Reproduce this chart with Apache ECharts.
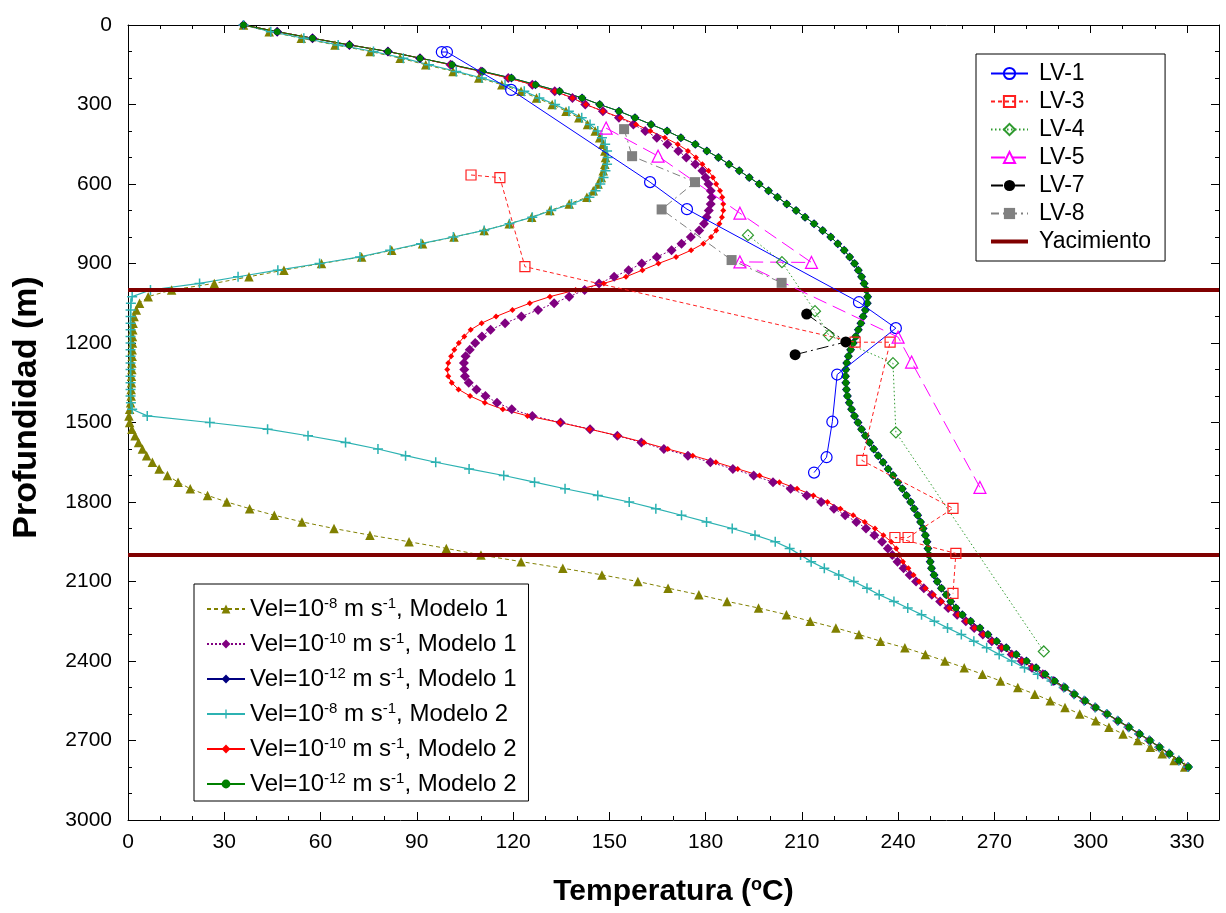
<!DOCTYPE html>
<html><head><meta charset="utf-8">
<script src="https://cdn.jsdelivr.net/npm/echarts@6/dist/echarts.min.js"></script>
<style>html,body{margin:0;padding:0;background:#fff}#c{width:1226px;height:913px}</style>
</head><body><div id="c"></div>
<script>
// ---------- data ----------
const depths = [
  0,25,50,75,100,125,150,175,200,225,
  250,275,300,325,350,375,400,425,450,475,
  500,525,550,575,600,625,650,675,700,725,
  750,775,800,825,850,875,900,925,950,975,
  1000,1025,1050,1075,1100,1125,1150,1175,1200,1225,
  1250,1275,1300,1325,1350,1375,1400,1425,1450,1475,
  1500,1525,1550,1575,1600,1625,1650,1675,1700,1725,
  1750,1775,1800,1825,1850,1875,1900,1925,1950,1975,
  2000,2025,2050,2075,2100,2125,2150,2175,2200,2225,
  2250,2275,2300,2325,2350,2375,2400,2425,2450,2475,
  2500,2525,2550,2575,2600,2625,2650,2675,2700,2725,
  2750,2775,2800];

// Vel=1e-8, Modelo 1
const m1v8 = [
  36,44,54,64.5,75.5,84.8,92.8,101.3,109.3,116.5,
  122.5,127.3,132.2,136.5,140.5,143.2,145.6,147,148,148.6,
  148.8,148.6,148.1,147.5,146.5,145,143,137.5,131.5,125.8,
  118.8,111,101.6,91.8,82.2,72.8,60.3,48.6,37.7,26.9,
  13.6,6.3,3.6,2.6,1.9,1.6,1.5,1.4,1.4,1.3,
  1.3,1.2,1.2,1.1,1.1,1,1,0.8,0.5,0.3,
  0.5,1.2,2.2,3.3,4.5,5.8,7.6,9.7,12.3,15.6,
  19.4,24.8,30.8,37.9,45.6,54.2,64.2,75.4,87.6,99.2,
  110,122.5,135.5,147.7,158.9,168.3,177.9,186.7,196.5,205.2,
  212.6,220.6,227.8,234.5,242.1,248.5,254.6,260.6,266.3,271.9,
  277.3,282.6,287.4,292,296.6,301.6,305.7,310.1,314.7,318.6,
  322.3,326,329.3];
// Vel=1e-10, Modelo 1
const m1v10 = [
  36,46.5,57.5,69,81,91,100.5,110,118.5,126,
  133,138.5,142.5,148,153,157.5,161.2,164.8,168.1,171.5,
  174,176.8,179,180,180.9,181.6,181.9,181.6,181,180.3,
  179.5,178,175.4,172.5,169.4,164.8,160.1,156,151.5,146.8,
  142.3,137.5,132.8,127.8,122.6,117.5,113,110.3,108.2,106.5,
  105.2,104.7,104.8,105,106.2,108.6,111.4,115,119.6,126,
  134.8,144,152.5,160,167,174.5,181.5,188.5,195,201,
  206.5,211.5,216,220,223.5,227,230,232.6,235,236.8,
  238.2,239.8,241.7,243.6,245.6,248,250.5,253.1,255.6,258.4,
  261.1,263.7,266.4,269.2,272.2,275.4,278.5,281.7,285.1,288.3,
  291.6,294.8,298,301.4,305,308.4,311.8,315.1,318.3,321.4,
  324.5,327.5,330.3];
// Vel=1e-12, Modelo 1
const m1v12 = [
  36,46.5,57.5,69,81,91,101,110.5,119.5,127,
  134.5,141.5,147,153,158,163,168,172.3,176.8,180.4,
  184,187.3,190.5,193.6,196.7,199.6,202.4,205.3,208.2,211,
  213.8,216.5,219,221.2,223.2,224.9,226.4,227.6,228.6,229.4,
  230.1,230.5,230.4,229.8,229.1,228.4,227.6,226.8,226,225.2,
  224.5,224,223.7,223.6,223.7,223.9,224.2,224.8,225.5,226.4,
  227.5,228.6,229.8,231.1,232.4,233.8,235.3,236.9,238.4,239.9,
  241.3,242.6,243.9,245,246.1,247,247.8,248.5,249,249.3,
  249.6,250,250.4,251.2,252.2,253.5,255,256.4,258,260,
  262.6,265.5,268,270.7,273.7,276.8,280,283,285.8,288.8,
  292,295,298.3,301.6,305.2,308.6,312,315.3,318.5,321.5,
  324.6,327.5,330.5];
// Vel=1e-8, Modelo 2
const m2v8 = [
  36,44.5,54.8,65.5,76.5,85.8,93.8,102.3,110.3,117.5,
  123.5,128.2,133.1,137.4,141.4,144,146.4,147.7,148.7,149.3,
  149.5,149.3,148.8,148.2,147.2,145.7,143.8,138.2,131.9,126,
  118.9,111,101.4,91.3,81.7,72.3,59.7,46.7,34.3,22.3,
  7,1.3,0.9,0.8,0.8,0.8,0.8,0.8,0.8,0.8,
  0.8,0.8,0.8,0.8,0.8,0.8,0.8,0.9,1.3,6,
  25.5,43.5,56.1,67.8,77.9,86.5,95.9,106.3,117.1,126.7,
  136.2,146.4,156.2,164.5,172.5,180.3,188.3,195.4,201.7,206.2,
  209.6,212.9,217,221.5,226.2,230.3,234.1,238.7,243,247.3,
  251.3,255.4,259.7,263.6,267.6,271.5,275.4,279.4,283.5,287.8,
  291.6,294.8,298,301.4,305,308.4,311.8,315.1,318.3,321.4,
  324.5,327.5,330.3];
// Vel=1e-10, Modelo 2
const m2v10 = [
  36,46.5,57.5,69,81,91,100.5,110,118.5,126,
  133,138.5,142.7,148,153.5,158.3,162.8,167.3,171.3,174.5,
  177,179,180.9,182.3,183.3,184.5,185.2,185.5,185.5,185.1,
  184.3,183.3,181.7,179.3,175.5,170.8,165.3,160.3,155.2,148.3,
  139.5,131.5,125.2,119.8,114.7,110.2,106.8,104.8,103.1,101.7,
  100.7,99.8,99.5,99.8,100.9,103,106.6,111.2,116.8,124.5,
  134.5,143.8,152.8,160.8,168.2,176,183.2,190,196.8,203,
  208.5,213.6,218,222,226,229.6,232.8,235.4,237.8,239.4,
  240.5,241.5,243.2,244.8,246.5,248.5,251,253.5,256,258.7,
  261.3,263.8,266.5,269.3,272.3,275.5,278.6,281.8,285.2,288.4,
  291.7,294.8,298,301.4,305,308.4,311.8,315.1,318.3,321.4,
  324.5,327.5,330.3];
// Vel=1e-12, Modelo 2
const m2v12 = [
  36,46.5,57.5,69,81,91,101,110.5,119.5,127,
  134.5,141.5,147,153,158,163,168,172.3,176.8,180.4,
  184,187.3,190.5,193.6,196.7,199.6,202.4,205.3,208.2,211,
  213.8,216.5,219,221.2,223.2,224.9,226.4,227.6,228.6,229.4,
  230.1,230.5,230.4,229.8,229.1,228.4,227.6,226.8,226,225.2,
  224.5,224,223.7,223.6,223.7,223.9,224.2,224.8,225.5,226.4,
  227.5,228.6,229.8,231.1,232.4,233.8,235.3,236.9,238.4,239.9,
  241.3,242.6,243.9,245,246.1,247,247.8,248.5,249,249.3,
  249.6,250,250.4,251.2,252.2,253.5,255,256.4,258,260,
  262.6,265.5,268,270.7,273.7,276.8,280,283,285.8,288.8,
  292,295,298.3,301.6,305.2,308.6,312,315.3,318.5,321.5,
  324.6,327.5,330.5];

// Measured wells
const lv1T = [97.8,99.4,119.4,162.7,174.2,227.8,239.3,221,219.5,217.7,213.8];
const lv1D = [102,102,245,593,695,1046,1144,1319,1497,1631,1689];
const lv3T = [106.9,115.9,123.7,226.6,237.5,228.7,257.1,243.1,239,258,257.1];
const lv3D = [566,576,912,1197,1197,1643,1824,1934,1934,1994,2145];
const lv4T = [193.2,203.8,214.1,218.4,238.4,239.3,285.4];
const lv4D = [793,895,1080,1171,1276,1537,2364];
const lv5T = [149,165.2,190.7,213,190.7,240,244.2,265.5];
const lv5D = [389,495,710,896,894,1178,1272,1745];
const lv7T = [211.5,223.7,207.9];
const lv7D = [1091,1196,1244];
const lv8T = [154.6,157.1,176.7,166.3,188.1,203.7];
const lv8D = [393,495,593,696,887,973];

const reservoirDepths = [1000, 2000];

const modelNames = ['M1v8','M1v10','M1v12','M2v8','M2v10','M2v12'];
const modelLabels = [
  'Vel=10{sup|-8} m s{sup|-1}, Modelo 1',
  'Vel=10{sup|-10} m s{sup|-1}, Modelo 1',
  'Vel=10{sup|-12} m s{sup|-1}, Modelo 1',
  'Vel=10{sup|-8} m s{sup|-1}, Modelo 2',
  'Vel=10{sup|-10} m s{sup|-1}, Modelo 2',
  'Vel=10{sup|-12} m s{sup|-1}, Modelo 2'];
const wellNames = ['LV-1','LV-3','LV-4','LV-5','LV-7','LV-8','Yacimiento'];

const xTicks = {min: 0, max: 340, interval: 30};
const yTicks = {min: 0, max: 3000, interval: 300};

// ---------- chart ----------
const FONT = '"Liberation Sans", Arial, Helvetica, sans-serif';
const pairs = (t, d) => t.map((v, i) => [v, d[i]]);
const PLUS = 'path://M4.25,0H5.75V4.25H10V5.75H5.75V10H4.25V5.75H0V4.25H4.25Z';
const BAR_ICON = 'path://M0,0H37V4H0Z';

function model(name, temps, color, lineType, symbol, size, width) {
  return {
    name, type: 'line', data: pairs(temps, depths),
    symbol, symbolSize: size, showAllSymbol: true,
    lineStyle: {color, width: width || 1, type: lineType},
    itemStyle: {color, borderWidth: 0},
    z: 3
  };
}
function well(name, t, d, color, lineType, symbol, size, hollow) {
  return {
    name, type: 'line', data: pairs(t, d),
    symbol, symbolSize: size, showAllSymbol: true,
    lineStyle: {color, width: 1, type: lineType},
    itemStyle: hollow ? {color: 'rgba(255,255,255,0)', borderColor: color, borderWidth: 1.2}
                      : {color, borderWidth: 0},
    z: 5
  };
}

const black = '#000';
function axisCommon(showLabel) {
  return {
    axisLine: {show: true, onZero: false, lineStyle: {color: black, width: 1}},
    axisTick: {show: true, inside: true, length: 8, lineStyle: {color: black}},
    minorTick: {show: true, splitNumber: 3, length: 4, lineStyle: {color: black}},
    splitLine: {show: false},
    axisLabel: {show: showLabel, color: black, fontFamily: FONT, fontSize: 21,
      formatter: v => String(v)}
  };
}

const option = {
  animation: false,
  backgroundColor: '#fff',
  grid: {left: 128, right: 7, top: 25, bottom: 93, containLabel: false},
  xAxis: [
    Object.assign({type: 'value', position: 'bottom'}, xTicks, axisCommon(true), {
      name: 'Temperatura ({sup|o}C)', nameLocation: 'middle', nameGap: 56,
      nameTextStyle: {color: black, fontFamily: FONT, fontSize: 30, fontWeight: 'bold', lineHeight: 32,
        rich: {sup: {fontSize: 18, fontWeight: 'bold', fontFamily: FONT, color: black, verticalAlign: 'top', lineHeight: 22}}}
    }),
    Object.assign({type: 'value', position: 'top'}, xTicks, axisCommon(false))
  ],
  yAxis: [
    Object.assign({type: 'value', position: 'left', inverse: true}, yTicks, axisCommon(true), {
      name: 'Profundidad (m)', nameLocation: 'middle', nameGap: 84,
      nameTextStyle: {color: black, fontFamily: FONT, fontSize: 34, fontWeight: 'bold', padding: [0, 0, 0, 30]}
    }),
    Object.assign({type: 'value', position: 'right', inverse: true}, yTicks, axisCommon(false))
  ],
  legend: [
    {
      orient: 'vertical', left: 976, top: 54,
      data: wellNames.map(n => n === 'Yacimiento' ? {name: n, icon: BAR_ICON} : n),
      padding: [8, 14, 8, 14], itemWidth: 37, itemHeight: 14, itemGap: 5,
      backgroundColor: '#fff', borderColor: black, borderWidth: 1, borderRadius: 0,
      textStyle: {color: black, fontFamily: FONT, fontSize: 23, lineHeight: 22, padding: [0, 0, 0, 6]}
    },
    {
      orient: 'vertical', left: 194, top: 584,
      data: modelNames,
      formatter: name => modelLabels[modelNames.indexOf(name)],
      padding: [12, 12, 4, 12], itemWidth: 38, itemHeight: 11, itemGap: 9,
      backgroundColor: '#fff', borderColor: black, borderWidth: 1, borderRadius: 0,
      textStyle: {color: black, fontFamily: FONT, fontSize: 24, lineHeight: 26,
        rich: {sup: {fontSize: 15, fontFamily: FONT, color: black, verticalAlign: 'top', lineHeight: 15}}}
    }
  ],
  series: [
    {
      name: 'Yacimiento', type: 'line', data: [], symbol: 'none',
      lineStyle: {color: '#800000', width: 4}, itemStyle: {color: '#800000'},
      markLine: {
        silent: true, symbol: ['none', 'none'], label: {show: false},
        lineStyle: {color: '#800000', width: 4, type: 'solid'},
        data: reservoirDepths.map(d => ({yAxis: d}))
      },
      z: 2
    },
    model('M1v8', m1v8, '#808000', [4, 3], 'triangle', 9.5),
    model('M1v10', m1v10, '#800080', [2, 2], 'diamond', 10),
    model('M1v12', m1v12, '#000080', 'solid', 'diamond', 9),
    model('M2v8', m2v8, '#2cb2b2', 'solid', PLUS, 10, 1.2),
    model('M2v10', m2v10, '#ff0000', 'solid', 'diamond', 6),
    model('M2v12', m2v12, '#008000', 'solid', 'circle', 6.5),
    well('LV-1', lv1T, lv1D, '#0000ff', 'solid', 'circle', 11, true),
    well('LV-3', lv3T, lv3D, '#ff2020', [4, 3], 'rect', 10, true),
    well('LV-4', lv4T, lv4D, '#2e9a2e', [1.5, 2.5], 'diamond', 11, true),
    well('LV-5', lv5T, lv5D, '#ff00ff', [14, 7], 'triangle', 12, true),
    well('LV-7', lv7T, lv7D, '#000000', [12, 4, 2, 4], 'circle', 11, false),
    well('LV-8', lv8T, lv8D, '#808080', [8, 4, 2, 4], 'rect', 10, false)
  ]
};
option.xAxis[0].axisLabel.showMaxLabel = false;
option.xAxis[0].axisLabel.margin = 12;
option.yAxis[0].axisLabel.margin = 16;

const chart = echarts.init(document.getElementById('c'));
chart.setOption(option);
</script>
</body></html>
